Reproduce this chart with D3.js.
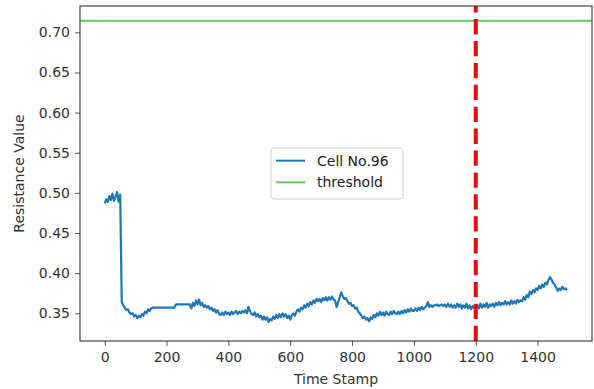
<!DOCTYPE html>
<html>
<head>
<meta charset="utf-8">
<script src="https://cdn.jsdelivr.net/npm/d3@7"></script>
<style>
  html, body { margin: 0; padding: 0; background: #fff; }
  svg { display: block; font-family: "DejaVu Sans", sans-serif; }
</style>
</head>
<body>
<svg id="chart" width="594" height="389"></svg>
<script>
// Resistance readings for cell no. 96, sampled every 5 time stamps
const timeStep = 5;
const resistance = [
  0.487, 0.492, 0.489, 0.496, 0.491, 0.499, 0.490, 0.495, 0.501, 0.489,
  0.498, 0.364, 0.360, 0.357, 0.354, 0.355, 0.351, 0.349, 0.350, 0.346,
  0.348, 0.344, 0.347, 0.345, 0.349, 0.347, 0.352, 0.350, 0.355, 0.353,
  0.356, 0.357, 0.357, 0.357, 0.357, 0.357, 0.357, 0.357, 0.357, 0.357,
  0.357, 0.357, 0.357, 0.357, 0.357, 0.357, 0.361, 0.361, 0.361, 0.361,
  0.361, 0.361, 0.361, 0.361, 0.361, 0.361, 0.356, 0.363, 0.359, 0.366,
  0.361, 0.367, 0.360, 0.363, 0.358, 0.360, 0.357, 0.359, 0.355, 0.357,
  0.353, 0.355, 0.351, 0.354, 0.349, 0.348, 0.351, 0.348, 0.352, 0.349,
  0.351, 0.348, 0.352, 0.349, 0.351, 0.353, 0.349, 0.352, 0.350, 0.353,
  0.351, 0.354, 0.350, 0.358, 0.353, 0.349, 0.348, 0.351, 0.346, 0.349,
  0.345, 0.347, 0.342, 0.346, 0.342, 0.345, 0.339, 0.343, 0.341, 0.346,
  0.343, 0.348, 0.344, 0.349, 0.345, 0.350, 0.346, 0.349, 0.344, 0.347,
  0.342, 0.347, 0.350, 0.347, 0.352, 0.355, 0.352, 0.357, 0.355, 0.360,
  0.357, 0.362, 0.359, 0.364, 0.361, 0.366, 0.363, 0.368, 0.365, 0.368,
  0.364, 0.369, 0.366, 0.370, 0.366, 0.370, 0.367, 0.371, 0.367, 0.366,
  0.358, 0.364, 0.370, 0.376, 0.371, 0.368, 0.369, 0.365, 0.362, 0.363,
  0.359, 0.360, 0.356, 0.357, 0.352, 0.350, 0.347, 0.344, 0.346, 0.342,
  0.344, 0.340, 0.345, 0.343, 0.348, 0.345, 0.350, 0.347, 0.352, 0.348,
  0.351, 0.347, 0.352, 0.349, 0.348, 0.352, 0.349, 0.353, 0.350, 0.349,
  0.352, 0.349, 0.353, 0.350, 0.354, 0.351, 0.355, 0.352, 0.356, 0.353,
  0.353, 0.356, 0.353, 0.357, 0.354, 0.358, 0.355, 0.357, 0.359, 0.364,
  0.358, 0.360, 0.358, 0.360, 0.360, 0.361, 0.359, 0.360, 0.361, 0.359,
  0.361, 0.358, 0.362, 0.358, 0.361, 0.357, 0.360, 0.357, 0.362, 0.358,
  0.361, 0.356, 0.360, 0.357, 0.362, 0.356, 0.360, 0.355, 0.359, 0.357,
  0.356, 0.360, 0.356, 0.362, 0.357, 0.361, 0.358, 0.363, 0.357, 0.361,
  0.359, 0.362, 0.358, 0.363, 0.360, 0.364, 0.360, 0.363, 0.361, 0.365,
  0.361, 0.364, 0.361, 0.366, 0.362, 0.365, 0.362, 0.367, 0.364, 0.366,
  0.365, 0.370, 0.367, 0.373, 0.370, 0.377, 0.374, 0.379, 0.376, 0.381,
  0.379, 0.384, 0.381, 0.386, 0.383, 0.388, 0.386, 0.391, 0.395, 0.392,
  0.388, 0.386, 0.382, 0.378, 0.381, 0.379, 0.383, 0.380, 0.381, 0.379
];
const threshold = 0.7145;
const splitTime = 1200;
const xTicks = [0, 200, 400, 600, 800, 1000, 1200, 1400];
const yTicks = [0.35, 0.40, 0.45, 0.50, 0.55, 0.60, 0.65, 0.70];
const seriesNames = ["Cell No.96", "threshold"];
const seriesColors = ["#1f77b4", "#66c966"];

const points = resistance.map((v, i) => ({ t: i * timeStep, v }));

const plot = { left: 80, right: 592, top: 6, bottom: 341 };
const x = d3.scaleLinear().domain([-80, 1576]).range([plot.left, plot.right]);
const y = d3.scaleLinear().domain([0.3155, 0.7328]).range([plot.bottom, plot.top]);

const svg = d3.select("#chart");
const fs = 14;

// axes
const xAxis = svg.append("g")
  .attr("transform", `translate(0,${plot.bottom})`)
  .call(d3.axisBottom(x).tickValues(xTicks).tickFormat(d3.format("d")).tickSizeOuter(0).tickSize(5).tickPadding(6));
const yAxis = svg.append("g")
  .attr("transform", `translate(${plot.left},0)`)
  .call(d3.axisLeft(y).tickValues(yTicks).tickFormat(d3.format(".2f")).tickSizeOuter(0).tickSize(5).tickPadding(5));
[xAxis, yAxis].forEach(g => {
  g.select(".domain").remove();
  g.selectAll(".tick line").attr("stroke", "#555");
  g.selectAll(".tick text").attr("fill", "#333").style("font-size", fs + "px").style("font-family", "DejaVu Sans");
});

svg.append("defs").append("clipPath").attr("id", "plotclip")
  .append("rect").attr("x", plot.left).attr("y", plot.top)
  .attr("width", plot.right - plot.left).attr("height", plot.bottom - plot.top);

const layer = svg.append("g").attr("clip-path", "url(#plotclip)");

// resistance trace
layer.append("path")
  .datum(points)
  .attr("fill", "none")
  .attr("stroke", seriesColors[0])
  .attr("stroke-width", 2.2)
  .attr("stroke-linejoin", "round")
  .attr("d", d3.line().x(d => x(d.t)).y(d => y(d.v)));

// threshold line
layer.append("line")
  .attr("x1", plot.left).attr("x2", plot.right)
  .attr("y1", y(threshold)).attr("y2", y(threshold))
  .attr("stroke", seriesColors[1]).attr("stroke-width", 2);

// split marker, drawn from the bottom up
layer.append("line")
  .attr("x1", x(splitTime)).attr("x2", x(splitTime))
  .attr("y1", plot.bottom).attr("y2", plot.top)
  .attr("stroke", "#e30b0b").attr("stroke-width", 4)
  .attr("stroke-dasharray", "15.3,6.6");

// frame
svg.append("rect")
  .attr("x", plot.left).attr("y", plot.top)
  .attr("width", plot.right - plot.left).attr("height", plot.bottom - plot.top)
  .attr("fill", "none").attr("stroke", "#333").attr("stroke-width", 1.1);

// axis titles
svg.append("text")
  .attr("x", (plot.left + plot.right) / 2).attr("y", 384)
  .attr("text-anchor", "middle").attr("fill", "#333")
  .style("font-size", fs + "px").text("Time Stamp");
svg.append("text")
  .attr("transform", `translate(24,${(plot.top + plot.bottom) / 2}) rotate(-90)`)
  .attr("text-anchor", "middle").attr("fill", "#333")
  .style("font-size", fs + "px").text("Resistance Value");

// legend
const legend = svg.append("g").attr("transform", "translate(271,148)");
legend.append("rect")
  .attr("width", 132).attr("height", 51).attr("rx", 3)
  .attr("fill", "#fff").attr("fill-opacity", 0.85)
  .attr("stroke", "#d0d0d0");
seriesNames.forEach((name, i) => {
  const cy = 12.7 + i * 21.6;
  legend.append("line")
    .attr("x1", 5).attr("x2", 34).attr("y1", cy).attr("y2", cy)
    .attr("stroke", seriesColors[i]).attr("stroke-width", 2);
  legend.append("text")
    .attr("x", 46).attr("y", cy + 5)
    .attr("fill", "#222").style("font-size", fs + "px")
    .text(name);
});
</script>
</body>
</html>
